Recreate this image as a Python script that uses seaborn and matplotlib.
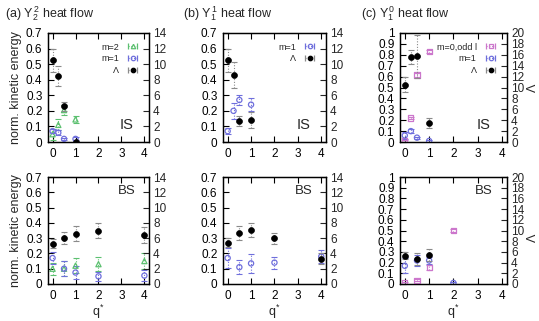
import matplotlib
matplotlib.use("Agg")
import matplotlib.pyplot as plt
from matplotlib.ticker import MultipleLocator, FuncFormatter
import numpy as np
import pandas as pd
import seaborn as sns

# data: mode energies on left axis, Lambda on right axis
# (a) Y22 heat flow
q_is = [0, 0.25, 0.5, 1]
q_bs = [0, 0.5, 1, 2, 4]

a_is_m2 = [0.05, 0.11, 0.205, 0.145]
a_is_m2_err = [0.035, 0.035, 0.03, 0.02]
a_is_m1 = [0.07, 0.06, 0.02, 0.02]
a_is_m1_err = [0.015, 0.015, 0.005, 0.01]
a_is_lam = [10.5, 8.5, 4.6, 0.0]
a_is_lam_err = [1.5, 1.3, 0.6, 0.0]

a_bs_m2 = [0.1, 0.1, 0.12, 0.13, 0.15]
a_bs_m2_err = [0.04, 0.05, 0.05, 0.045, 0.05]
a_bs_m1 = [0.17, 0.1, 0.075, 0.05, 0.055]
a_bs_m1_err = [0.04, 0.05, 0.045, 0.03, 0.035]
a_bs_lam = [5.3, 6.0, 6.6, 7.0, 6.4]
a_bs_lam_err = [0.6, 0.8, 1.0, 1.0, 1.0]

# (b) Y11 heat flow
b_is_m1 = [0.07, 0.2, 0.27, 0.24]
b_is_m1_err = [0.02, 0.05, 0.035, 0.04]
b_is_lam = [10.5, 8.6, 2.7, 2.8]
b_is_lam_err = [1.5, 1.7, 0.7, 1.0]

b_bs_m1 = [0.17, 0.11, 0.135, 0.14, 0.18]
b_bs_m1_err = [0.065, 0.045, 0.06, 0.04, 0.045]
b_bs_lam = [5.4, 6.7, 7.1, 6.0, 3.3]
b_bs_lam_err = [0.6, 0.9, 0.9, 0.7, 0.7]

# (c) Y10 heat flow
c_is_m0 = [0.01, 0.22, 0.615, 0.83]
c_is_m0_err = [0.01, 0.01, 0.02, 0.01]
c_is_m1 = [0.06, 0.1, 0.04, 0.01]
c_is_m1_err = [0.03, 0.02, 0.01, 0.01]
c_is_lam = [10.5, 15.6, 15.7, 3.5]
c_is_lam_err = [1.4, 1.2, 4.0, 0.9]

q_c_bs = [0, 0.5, 1, 2]
q_c_bs_lam = [0, 0.5, 1]
c_bs_m0 = [0.01, 0.035, 0.155, 0.5]
c_bs_m0_err = [0.01, 0.01, 0.02, 0.01]
c_bs_m1 = [0.17, 0.22, 0.22, 0.01]
c_bs_m1_err = [0.07, 0.05, 0.03, 0.01]
c_bs_lam = [5.3, 4.7, 5.4]
c_bs_lam_err = [0.7, 1.1, 1.1]

GREEN = "#5cc070"
BLUE = "#6f6fdc"
MAGENTA = "#cc77cc"
GRAY = "#8a8a8a"

sns.set_style("ticks")
plt.rcParams["font.family"] = ["Liberation Sans", "DejaVu Sans"]
plt.rcParams["mathtext.fontset"] = "custom"
plt.rcParams["mathtext.rm"] = "Liberation Sans"
plt.rcParams["mathtext.it"] = "Liberation Sans"

fig = plt.figure(figsize=(5.39, 3.21), dpi=100)

lefts = [0.089, 0.4137, 0.742]
widths = [0.1874, 0.191, 0.1985]
rows = [(0.5576, 0.3396), (0.1153, 0.333)]

styles = {
    "m=2": dict(marker="^", color=GREEN),
    "m=1": dict(marker="o", color=BLUE),
    "m=0,odd l": dict(marker="s", color=MAGENTA),
}


def draw_bars(ax, x, y, err, color, marker, filled=False, size=14):
    eb = ax.errorbar(x, y, yerr=err, fmt="none", ecolor=color, elinewidth=0.8,
                     capsize=2.5, capthick=0.8)
    eb[2][0].set_linestyle((0, (1, 1.5)))
    df = pd.DataFrame({"q": x, "v": y})
    if filled:
        sns.scatterplot(data=df, x="q", y="v", ax=ax, marker=marker, s=size,
                        color="black", edgecolor="black", linewidth=0.5, zorder=5)
    else:
        sns.scatterplot(data=df, x="q", y="v", ax=ax, marker=marker, s=size,
                        facecolor="none", edgecolor=color, linewidth=0.9, zorder=5)


def legend_proxy(ax, color, marker, filled=False):
    h = ax.errorbar([np.nan], [np.nan], xerr=[0.1], fmt=marker, ms=3.2,
                    mfc="black" if filled else "none",
                    mec="black" if filled else color,
                    ecolor=GRAY if filled else color, elinewidth=0.8,
                    capsize=2.5, capthick=0.8, mew=0.9)
    h[2][0].set_linestyle((0, (1, 1.5)))
    return h


def panel(col, row, modes, lam_q, lam, lam_err, top, rtop, tag, legend):
    h, hh = rows[row]
    ax = fig.add_axes([lefts[col], h, widths[col], hh])
    ax2 = ax.twinx()
    for name, mq, vals, errs in modes:
        st = styles[name]
        draw_bars(ax, mq, vals, errs, st["color"], st["marker"])
    draw_bars(ax2, lam_q, lam, lam_err, GRAY, "o", filled=True, size=18)

    ax.set_xlim(-0.2, 4.2)
    ax.set_ylim(0, top)
    ax2.set_ylim(0, rtop)
    ax.xaxis.set_major_locator(MultipleLocator(1))
    ax.yaxis.set_major_locator(MultipleLocator(0.1))
    ax2.yaxis.set_major_locator(MultipleLocator(2))
    ax.yaxis.set_major_formatter(FuncFormatter(lambda v, p: "%g" % round(v, 2)))
    ax.tick_params(direction="in", length=4, width=0.8, top=True, right=False,
                   labelsize=8.5, pad=4, colors="black")
    ax2.tick_params(direction="in", length=4, width=0.8, labelsize=8.5, pad=3)
    ax.set_xlabel("")
    ax.set_ylabel("")
    ax2.set_ylabel("")
    for a in (ax, ax2):
        for s in a.spines.values():
            s.set_linewidth(0.9)
            s.set_color("black")

    if row == 0:
        ax.text(0.78, 0.09, tag, transform=ax.transAxes, fontsize=10.5,
                ha="center", va="bottom")
    else:
        ax.text(0.78, 0.87, tag, transform=ax.transAxes, fontsize=9.5,
                ha="center", va="center")
        ax.set_xlabel("q$^{*}$", fontsize=9, labelpad=1)

    if legend:
        handles = []
        labels = []
        for name, mq, vals, errs in modes:
            st = styles[name]
            handles.append(legend_proxy(ax2, st["color"], st["marker"]))
            labels.append(name)
        handles.append(legend_proxy(ax2, GRAY, "o", filled=True))
        labels.append("Λ")
        ax2.legend(handles, labels, loc="upper right", bbox_to_anchor=(0.97, 0.97),
                   frameon=False, markerfirst=False, fontsize=6.5,
                   handlelength=1.5, handletextpad=0.8, labelspacing=0.3,
                   borderaxespad=0.3)
    return ax, ax2


# top row: IS
ax, _ = panel(0, 0, [("m=2", q_is, a_is_m2, a_is_m2_err), ("m=1", q_is, a_is_m1, a_is_m1_err)],
              q_is, a_is_lam, a_is_lam_err, 0.7, 14, "IS", True)
ax.set_ylabel("norm. kinetic energy", fontsize=9, labelpad=3)
panel(1, 0, [("m=1", q_is, b_is_m1, b_is_m1_err)],
      q_is, b_is_lam, b_is_lam_err, 0.7, 14, "IS", True)
panel(2, 0, [("m=0,odd l", q_is, c_is_m0, c_is_m0_err), ("m=1", q_is, c_is_m1, c_is_m1_err)],
      q_is, c_is_lam, c_is_lam_err, 1.0, 20, "IS", True)

# bottom row: BS
ax, _ = panel(0, 1, [("m=2", q_bs, a_bs_m2, a_bs_m2_err), ("m=1", q_bs, a_bs_m1, a_bs_m1_err)],
              q_bs, a_bs_lam, a_bs_lam_err, 0.7, 14, "BS", False)
ax.set_ylabel("norm. kinetic energy", fontsize=9, labelpad=3)
panel(1, 1, [("m=1", q_bs, b_bs_m1, b_bs_m1_err)],
      q_bs, b_bs_lam, b_bs_lam_err, 0.7, 14, "BS", False)
panel(2, 1, [("m=0,odd l", q_c_bs, c_bs_m0, c_bs_m0_err), ("m=1", q_c_bs, c_bs_m1, c_bs_m1_err)],
      q_c_bs_lam, c_bs_lam, c_bs_lam_err, 1.0, 20, "BS", False)

# right axis label for column (c)
fig.text(0.988, 0.727, "Λ", fontsize=9, rotation=90, ha="center", va="center")
fig.text(0.988, 0.258, "Λ", fontsize=9, rotation=90, ha="center", va="center")

fig.text(0.009, 0.958, "(a) Y$_2^{\\,2}$ heat flow", fontsize=9, va="center")
fig.text(0.34, 0.958, "(b) Y$_1^{\\,1}$ heat flow", fontsize=9, va="center")
fig.text(0.67, 0.958, "(c) Y$_1^{\\,0}$ heat flow", fontsize=9, va="center")

fig.savefig("out.png", dpi=100)
